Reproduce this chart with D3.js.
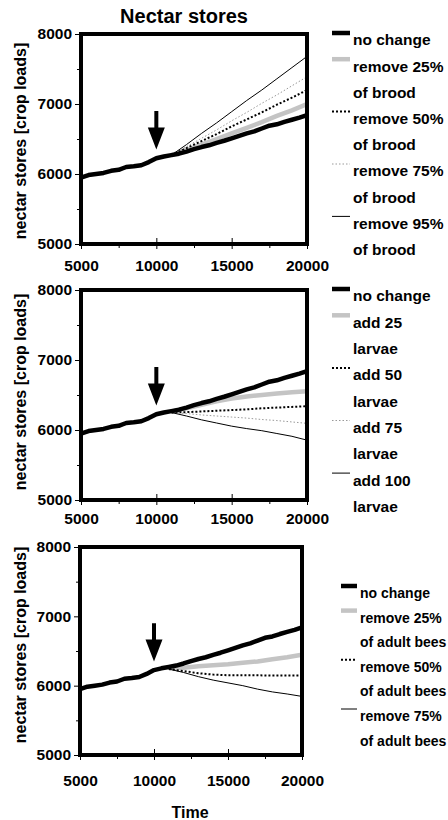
<!DOCTYPE html>
<html>
<head>
<meta charset="utf-8">
<script src="https://cdn.jsdelivr.net/npm/d3@7"></script>
<style>
    body { margin: 0; background: #fff; }
    svg { display: block; font-family: "Liberation Sans", Arial, Helvetica, sans-serif; font-weight: bold; }
    .axis path { display: none; }
    .axis line { stroke: #000; stroke-width: 1; }
    .axis text { font-family: "Liberation Sans", Arial, Helvetica, sans-serif; font-weight: bold; font-size: 15.5px; fill: #000; }
</style>
</head>
<body>
<svg id="nectar" width="448" height="820"></svg>
<script>
// time steps of the shared run (before and after the manipulation)
var timeAll = [5000, 5500, 6000, 6500, 7000, 7500, 8000, 8500, 9000, 9500, 10000,
    10500, 11000, 11500, 12000, 12500, 13000, 13500, 14000, 14500, 15000,
    15500, 16000, 16500, 17000, 17500, 18000, 18500, 19000, 19500, 20000];
var noChange = [5950, 5985, 6000, 6015, 6045, 6060, 6100, 6110, 6125, 6170, 6225,
    6250, 6270, 6290, 6320, 6355, 6385, 6410, 6445, 6475, 6510,
    6545, 6580, 6610, 6650, 6690, 6710, 6745, 6775, 6805, 6840];

// time steps of the manipulated runs
var timeTreat = [11000, 12000, 13000, 14000, 15000, 16000, 17000, 18000, 19000, 20000];

var brood25 = [6270, 6340, 6420, 6500, 6580, 6660, 6740, 6830, 6910, 7000];
var brood50 = [6270, 6370, 6470, 6570, 6680, 6780, 6880, 6990, 7090, 7200];
var brood75 = [6270, 6390, 6510, 6630, 6760, 6880, 7010, 7130, 7260, 7390];
var brood95 = [6270, 6420, 6580, 6730, 6890, 7050, 7200, 7360, 7520, 7680];

var larvae25 = [6260, 6310, 6360, 6410, 6450, 6480, 6500, 6520, 6540, 6555];
var larvae50 = [6250, 6255, 6265, 6275, 6285, 6295, 6310, 6320, 6330, 6340];
var larvae75 = [6250, 6235, 6215, 6200, 6185, 6170, 6150, 6135, 6115, 6095];
var larvae100 = [6250, 6200, 6145, 6100, 6055, 6020, 5990, 5950, 5910, 5855];

var adults25 = [6250, 6260, 6280, 6295, 6310, 6330, 6350, 6380, 6410, 6445];
var adults50 = [6240, 6210, 6180, 6160, 6150, 6150, 6150, 6145, 6145, 6145];
var adults75 = [6240, 6190, 6130, 6080, 6040, 6000, 5950, 5910, 5880, 5845];

var broodLabels = [["no change"], ["remove 25%", "of brood"], ["remove 50%", "of brood"],
    ["remove 75%", "of brood"], ["remove 95%", "of brood"]];
var larvaeLabels = [["no change"], ["add 25", "larvae"], ["add 50", "larvae"],
    ["add 75", "larvae"], ["add 100", "larvae"]];
var adultLabels = [["no change"], ["remove 25%", "of adult bees"], ["remove 50%", "of adult bees"],
    ["remove 75%", "of adult bees"]];

var xTicks = [5000, 10000, 15000, 20000],
    xMinor = [7500, 12500, 17500],
    yTicks = [5000, 6000, 7000, 8000],
    yMinor = [5500, 6500, 7500];

// arrow marking the manipulation
var arrowTime = 10000, arrowFrom = 6900, arrowTo = 6350;

// line styles: no change, then treatments
var styles = {
    base:   {stroke: "#000", width: 4.5, dash: null},
    grey:   {stroke: "#c4c4c4", width: 4.5, dash: null},
    dots:   {stroke: "#000", width: 2, dash: "2,2"},
    greyDots: {stroke: "#999", width: 1, dash: "1.5,2"},
    thin:   {stroke: "#000", width: 1, dash: null}
};

var svg = d3.select("#nectar");

svg.append("text")
    .attr("x", 184)
    .attr("y", 23)
    .attr("text-anchor", "middle")
    .style("font-size", "20px")
    .text("Nectar stores");

function drawPanel(p, treatments, labels, look) {
    var x = d3.scaleLinear().domain([5000, 20000]).range([p.left, p.right]),
        y = d3.scaleLinear().domain([5000, 8000]).range([p.bottom, p.top]);

    var g = svg.append("g");

    var line = d3.line()
        .x(function(d) { return x(d[0]); })
        .y(function(d) { return y(d[1]); });

    g.append("clipPath")
        .attr("id", "clip" + p.id)
        .append("rect")
        .attr("x", p.left)
        .attr("y", p.top)
        .attr("width", p.right - p.left)
        .attr("height", p.bottom - p.top);

    var plot = g.append("g").attr("clip-path", "url(#clip" + p.id + ")");

    treatments.forEach(function(vals, i) {
        var s = styles[look[i + 1]];
        plot.append("path")
            .datum(d3.zip(timeTreat, vals))
            .attr("fill", "none")
            .attr("stroke", s.stroke)
            .attr("stroke-width", s.width)
            .attr("stroke-dasharray", s.dash)
            .attr("d", line);
    });

    plot.append("path")
        .datum(d3.zip(timeAll, noChange))
        .attr("fill", "none")
        .attr("stroke", styles.base.stroke)
        .attr("stroke-width", styles.base.width)
        .attr("stroke-linejoin", "round")
        .attr("d", line);

    // arrow
    var ax = x(arrowTime), ay0 = y(arrowFrom), ay1 = y(arrowTo), head = 22;
    g.append("path")
        .attr("fill", "#000")
        .attr("d", "M" + (ax - 2) + "," + ay0 + "L" + (ax + 2) + "," + ay0 +
            "L" + (ax + 2) + "," + (ay1 - head) + "L" + (ax + 8.5) + "," + (ay1 - head) +
            "L" + ax + "," + ay1 + "L" + (ax - 8.5) + "," + (ay1 - head) +
            "L" + (ax - 2) + "," + (ay1 - head) + "Z");

    // axes
    g.append("g")
        .attr("class", "axis")
        .attr("transform", "translate(" + p.left + ",0)")
        .call(d3.axisLeft(y).tickValues(yTicks).tickSize(6).tickPadding(3).tickFormat(d3.format("d")));

    g.append("g")
        .attr("class", "axis")
        .attr("transform", "translate(" + p.left + ",0)")
        .call(d3.axisLeft(y).tickValues(yMinor).tickSize(4).tickFormat(""));

    g.append("g")
        .attr("class", "axis")
        .attr("transform", "translate(0," + p.bottom + ")")
        .call(d3.axisBottom(x).tickValues(xTicks).tickSize(5).tickPadding(p.xPad).tickFormat(d3.format("d")));

    g.append("g")
        .attr("class", "axis")
        .attr("transform", "translate(0," + p.bottom + ")")
        .call(d3.axisBottom(x).tickValues(xTicks.slice(1, 3)).tickSize(-6).tickFormat(""));

    g.append("g")
        .attr("class", "axis")
        .attr("transform", "translate(0," + p.bottom + ")")
        .call(d3.axisBottom(x).tickValues(xMinor).tickSize(4).tickFormat(""));

    // frame
    g.append("rect")
        .attr("x", p.left)
        .attr("y", p.top)
        .attr("width", p.right - p.left)
        .attr("height", p.bottom - p.top)
        .attr("fill", "none")
        .attr("stroke", "#000")
        .attr("stroke-width", 4);

    g.append("text")
        .attr("transform", "translate(26," + p.labelY + ") rotate(-90)")
        .attr("text-anchor", "middle")
        .style("font-size", "16px")
        .text("nectar stores [crop loads]");

    // legend
    var row = 0;
    labels.forEach(function(lines, i) {
        var s = styles[look[i]],
            ty = p.legTop + row * p.legStep;
        g.append("line")
            .attr("x1", p.sampleX0)
            .attr("x2", p.sampleX1)
            .attr("y1", ty - 7)
            .attr("y2", ty - 7)
            .attr("stroke", s.stroke)
            .attr("stroke-width", s.width)
            .attr("stroke-dasharray", s.dash);
        lines.forEach(function(t) {
            g.append("text")
                .attr("x", p.textX)
                .attr("y", p.legTop + row * p.legStep)
                .attr("dy", "0.35em")
                .style("font-size", p.legFont + "px")
                .text(t);
            row++;
        });
    });
}

drawPanel({id: 1, left: 81, right: 307, top: 34, bottom: 244, xPad: 10.5, labelY: 141,
    sampleX0: 332, sampleX1: 350, textX: 353, legTop: 40, legStep: 26.2, legFont: 15.5},
    [brood25, brood50, brood75, brood95], broodLabels,
    ["base", "grey", "dots", "greyDots", "thin"]);

drawPanel({id: 2, left: 81, right: 307, top: 290, bottom: 500, xPad: 7.5, labelY: 392,
    sampleX0: 332, sampleX1: 350, textX: 353, legTop: 296, legStep: 26.3, legFont: 15.5},
    [larvae25, larvae50, larvae75, larvae100], larvaeLabels,
    ["base", "grey", "dots", "greyDots", "thin"]);

drawPanel({id: 3, left: 80, right: 302, top: 547, bottom: 755, xPad: 14.5, labelY: 645,
    sampleX0: 341, sampleX1: 357, textX: 360, legTop: 593, legStep: 24.6, legFont: 14},
    [adults25, adults50, adults75], adultLabels,
    ["base", "grey", "dots", "thin"]);

svg.append("text")
    .attr("x", 190)
    .attr("y", 818)
    .attr("text-anchor", "middle")
    .style("font-size", "16px")
    .text("Time");
</script>
</body>
</html>
